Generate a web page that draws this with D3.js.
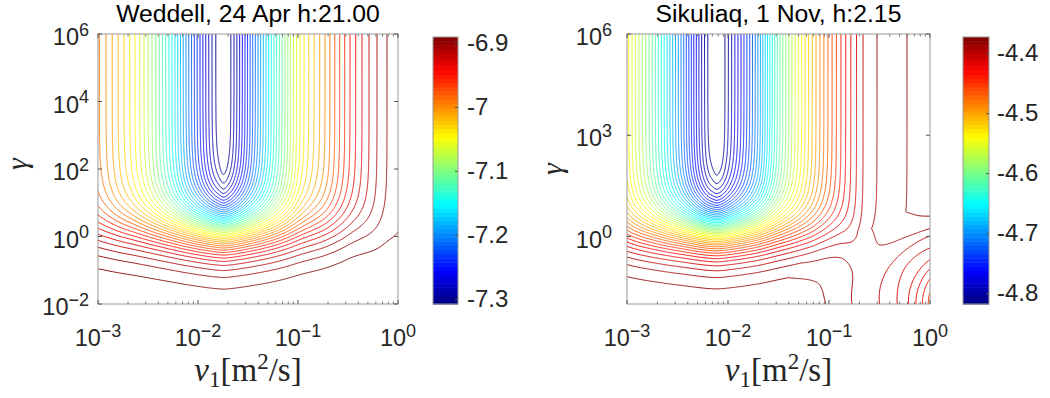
<!DOCTYPE html>
<html>
<head>
<meta charset="utf-8">
<script src="https://cdn.jsdelivr.net/npm/d3@7"></script>
<style>
  body { margin: 0; background: #fff; }
  text { font-family: "Liberation Sans", Arial, sans-serif; }
</style>
</head>
<body>
<svg id="chart" width="1050" height="398"></svg>
<script>
// ---------- values ----------
const xTickExp = [-3, -2, -1, 0];
const weddellYTickExp = [-2, 0, 2, 4, 6];
const sikuliaqYTickExp = [0, 3, 6];

const weddellTitle = "Weddell, 24 Apr h:21.00";
const sikuliaqTitle = "Sikuliaq, 1 Nov, h:2.15";

// misfit along the top edge (large gamma): log10(nu) -> value
const weddellTopNu  = [-3.00, -2.92, -2.74, -2.63, -2.46, -2.26, -2.12, -1.98, -1.86, -1.80, -1.745, -1.69, -1.64, -1.40, -1.13, -0.98, -0.73, -0.48, -0.36, -0.21, -0.11, 0.00];
const weddellTopVal = [-6.988, -7.00, -7.03, -7.05, -7.09, -7.15, -7.20, -7.25, -7.29, -7.305, -7.315, -7.305, -7.29, -7.20, -7.10, -7.05, -7.00, -6.95, -6.93, -6.91, -6.90, -6.894];
// log10(gamma) where the valley closes, along log10(nu)
const weddellBendNu    = [-3.0, -1.75, -1.0, -0.5, -0.15, 0.0];
const weddellBendGamma = [0.14, 0.24, 0.20, 0.22, -0.10, -0.30];
const weddellFloor = -6.88;          // value reached at small gamma
const weddellWidth = 0.48;           // decades of gamma for the closing
const weddellLevels = d3.range(42).map(i => -7.30 + i * 0.01);
const weddellColorRange = [-7.308, -6.891];
const weddellColorTicks = [-7.3, -7.2, -7.1, -7, -6.9];

const sikuliaqTopNu  = [-3.00, -2.95, -2.75, -2.465, -2.20, -2.15, -2.114, -2.07, -2.03, -1.73, -1.485, -1.09, -0.663, -0.525, -0.228, 0.00];
const sikuliaqTopVal = [-4.535, -4.55, -4.61, -4.71, -4.81, -4.82, -4.825, -4.82, -4.81, -4.71, -4.61, -4.49, -4.40, -4.39, -4.38, -4.374];
const sikuliaqBendNu    = [-3.0, -2.1, -1.2, -0.9, -0.65, -0.4, 0.0];
const sikuliaqBendGamma = [0.10, 0.23, 0.15, 0.0, -0.60, -0.90, -0.90];
const sikuliaqFloor = -4.37;
const sikuliaqWidth = 0.47;
// second low centred beyond the lower right corner
const sikuliaqDipCentre = [0.5, -2.0];          // log10 nu, log10 gamma
const sikuliaqDipGammaScale = 2.36;
const sikuliaqDipNuSpan = [0, 1.0, 1.26, 1.54, 2.2];
const sikuliaqDipNuDist = [0, 1.0, 1.066, 1.19, 1.5];
const sikuliaqDipRadius = [0.5, 0.538, 0.57, 0.634, 0.70, 0.773, 0.873, 1.0, 1.077, 1.225, 1.4];
const sikuliaqDipDepth  = [0.10, 0.0885, 0.0785, 0.0685, 0.0585, 0.0485, 0.0385, 0.0285, 0.018, 0.0065, 0.0];
const sikuliaqLevels = d3.range(44).map(i => -4.81 + i * 0.01);
const sikuliaqColorRange = [-4.818, -4.373];
const sikuliaqColorTicks = [-4.8, -4.7, -4.6, -4.5, -4.4];

// ---------- drawing ----------
const svg = d3.select("#chart");
const nx = 300, ny = 270;

function jet(t) {
    const c = x => Math.max(0, Math.min(1, x));
    const r = c(Math.min(4 * t - 1.5, -4 * t + 4.5));
    const g = c(Math.min(4 * t - 0.5, -4 * t + 3.5));
    const b = c(Math.min(4 * t + 0.5, -4 * t + 2.5));
    return d3.rgb(r * 255, g * 255, b * 255).toString();
}

// monotone cubic through the read samples (no kinks between them)
function smooth(xs, ys) {
    const n = xs.length, d = [], m = new Array(n);
    for (let i = 0; i < n - 1; i++) d.push((ys[i + 1] - ys[i]) / (xs[i + 1] - xs[i]));
    m[0] = d[0]; m[n - 1] = d[n - 2];
    for (let i = 1; i < n - 1; i++) m[i] = d[i - 1] * d[i] <= 0 ? 0 : (d[i - 1] + d[i]) / 2;
    for (let i = 0; i < n - 1; i++) {
        if (d[i] === 0) { m[i] = m[i + 1] = 0; continue; }
        const a = m[i] / d[i], b = m[i + 1] / d[i], s = a * a + b * b;
        if (s > 9) { const t = 3 / Math.sqrt(s); m[i] = t * a * d[i]; m[i + 1] = t * b * d[i]; }
    }
    const bis = d3.bisector(x => x).right;
    return x => {
        if (x <= xs[0]) return ys[0];
        if (x >= xs[n - 1]) return ys[n - 1];
        const i = Math.min(n - 2, bis(xs, x) - 1);
        const h = xs[i + 1] - xs[i], t = (x - xs[i]) / h, t2 = t * t, t3 = t2 * t;
        return (2 * t3 - 3 * t2 + 1) * ys[i] + (t3 - 2 * t2 + t) * h * m[i]
             + (-2 * t3 + 3 * t2) * ys[i + 1] + (t3 - t2) * h * m[i + 1];
    };
}

const sikuliaqDip = (() => {
    const dist = smooth(sikuliaqDipNuSpan, sikuliaqDipNuDist);
    const depth = smooth(sikuliaqDipRadius, sikuliaqDipDepth);
    return (u, v) => {
        const a = dist(sikuliaqDipCentre[0] - u);
        const b = (v - sikuliaqDipCentre[1]) / sikuliaqDipGammaScale;
        return depth(Math.sqrt(a * a + b * b));
    };
})();

const panels = [
    {
        title: weddellTitle, yTicks: weddellYTickExp,
        top: smooth(weddellTopNu, weddellTopVal),
        bend: smooth(weddellBendNu, weddellBendGamma),
        floor: weddellFloor, width: weddellWidth, dip: null,
        levels: weddellLevels, crange: weddellColorRange, cticks: weddellColorTicks,
        x0: 98, x1: 398, y0: 34, y1: 304, ylabGap: 9, gammaX: 27, gammaY: 164,
        cbX: 433, cbW: 25, cbPad: 9
    },
    {
        title: sikuliaqTitle, yTicks: sikuliaqYTickExp,
        top: smooth(sikuliaqTopNu, sikuliaqTopVal),
        bend: smooth(sikuliaqBendNu, sikuliaqBendGamma),
        floor: sikuliaqFloor, width: sikuliaqWidth, dip: sikuliaqDip,
        levels: sikuliaqLevels, crange: sikuliaqColorRange, cticks: sikuliaqColorTicks,
        x0: 627, x1: 930, y0: 34, y1: 304, ylabGap: 15, gammaX: 562, gammaY: 169,
        cbX: 963, cbW: 26, cbPad: 8
    }
];

function misfit(p, u, v) {
    const g = p.top(u);
    const s = 1 / (1 + Math.exp(-(v - p.bend(u)) / p.width));
    let f = p.floor - (p.floor - g) * s;
    if (p.dip) f -= p.dip(u, v);
    return f;
}

function powLabel(g, x, y, e, anchor) {
    const t = g.append("text")
        .attr("x", x).attr("y", y)
        .attr("text-anchor", anchor)
        .attr("fill", "#262626")
        .style("font-size", "23.5px");
    t.append("tspan").text("10");
    t.append("tspan").attr("dy", -9.5).style("font-size", "18px")
        .text(e < 0 ? "\u2212" + (-e) : String(e));
}

panels.forEach((p, k) => {
    const xScale = d3.scaleLog().domain([1e-3, 1]).range([p.x0, p.x1]);
    const yScale = d3.scaleLog().domain([1e-2, 1e6]).range([p.y1, p.y0]);
    const gu = d3.scaleLinear().domain([0.5, nx - 0.5]).range([-3, 0]);
    const gv = d3.scaleLinear().domain([0.5, ny - 0.5]).range([6, -2]);

    const values = new Float64Array(nx * ny);
    for (let j = 0; j < ny; j++) {
        const v = gv(j + 0.5);
        for (let i = 0; i < nx; i++) values[j * nx + i] = misfit(p, gu(i + 0.5), v);
    }

    const color = d3.scaleSequential(jet).domain(p.crange);
    const proj = d3.geoTransform({
        point(x, y) { this.stream.point(xScale(Math.pow(10, gu(x))), yScale(Math.pow(10, gv(y)))); }
    });
    const path = d3.geoPath(proj);

    svg.append("clipPath").attr("id", "clip" + k)
        .append("rect").attr("x", p.x0).attr("y", p.y0)
        .attr("width", p.x1 - p.x0).attr("height", p.y1 - p.y0);

    const contours = d3.contours().size([nx, ny]).thresholds(p.levels)(values);
    svg.append("g").attr("clip-path", `url(#clip${k})`)
        .selectAll("path")
        .data(contours)
        .join("path")
        .attr("d", path)
        .attr("fill", "none")
        .attr("stroke", d => color(d.value))
        .attr("stroke-width", 1)
        .attr("stroke-opacity", 0.9);

    // frame and ticks
    const ax = svg.append("g");
    ax.append("rect").attr("x", p.x0).attr("y", p.y0)
        .attr("width", p.x1 - p.x0).attr("height", p.y1 - p.y0)
        .attr("fill", "none").attr("stroke", "#9a9a9a").attr("stroke-width", 1);

    const minor = [];
    [-3, -2, -1].forEach(e => d3.range(2, 10).forEach(m => minor.push(m * Math.pow(10, e))));
    minor.forEach(d => {
        const x = xScale(d);
        ax.append("line").attr("x1", x).attr("x2", x).attr("y1", p.y1).attr("y2", p.y1 - 2.5).attr("stroke", "#777");
        ax.append("line").attr("x1", x).attr("x2", x).attr("y1", p.y0).attr("y2", p.y0 + 2.5).attr("stroke", "#777");
    });
    xTickExp.forEach(e => {
        const x = xScale(Math.pow(10, e));
        ax.append("line").attr("x1", x).attr("x2", x).attr("y1", p.y1).attr("y2", p.y1 - 4).attr("stroke", "#555");
        ax.append("line").attr("x1", x).attr("x2", x).attr("y1", p.y0).attr("y2", p.y0 + 4).attr("stroke", "#555");
        powLabel(ax, x, 346, e, "middle");
    });
    p.yTicks.forEach(e => {
        const y = yScale(Math.pow(10, e));
        ax.append("line").attr("x1", p.x0).attr("x2", p.x0 + 4).attr("y1", y).attr("y2", y).attr("stroke", "#555");
        ax.append("line").attr("x1", p.x1).attr("x2", p.x1 - 4).attr("y1", y).attr("y2", y).attr("stroke", "#555");
        powLabel(ax, p.x0 - p.ylabGap, y + 11, e, "end");
    });

    // title
    svg.append("text")
        .attr("x", (p.x0 + p.x1) / 2).attr("y", 22)
        .attr("text-anchor", "middle")
        .style("font-size", "24.75px")
        .text(p.title);

    // axis labels
    const xl = svg.append("text")
        .attr("x", (p.x0 + p.x1) / 2).attr("y", 381)
        .attr("text-anchor", "middle")
        .style("font-family", "'Liberation Serif', serif")
        .style("font-size", "33px")
        .attr("fill", "#262626");
    xl.append("tspan").style("font-style", "italic").text("\u03bd");
    xl.append("tspan").attr("dy", 6).style("font-size", "23px").text("1");
    xl.append("tspan").attr("dy", -6).text("[m");
    xl.append("tspan").attr("dy", -12).style("font-size", "23px").text("2");
    xl.append("tspan").attr("dy", 12).text("/s]");

    svg.append("text")
        .attr("transform", `translate(${p.gammaX},${p.gammaY}) rotate(-90)`)
        .attr("text-anchor", "middle")
        .style("font-family", "'Liberation Serif', serif")
        .style("font-style", "italic")
        .style("font-size", "30px")
        .attr("fill", "#262626")
        .text("\u03b3");

    // colorbar
    const cbScale = d3.scaleLinear().domain(p.crange).range([p.y1, 37]);
    const nb = 64;
    const cb = svg.append("g");
    cb.selectAll("rect.band")
        .data(d3.range(nb))
        .join("rect")
        .attr("class", "band")
        .attr("x", p.cbX)
        .attr("width", p.cbW)
        .attr("y", i => cbScale(p.crange[0] + (i + 1) * (p.crange[1] - p.crange[0]) / nb))
        .attr("height", (p.y1 - 37) / nb + 0.5)
        .attr("fill", i => jet((i + 0.5) / nb));
    cb.append("rect").attr("x", p.cbX).attr("y", 37)
        .attr("width", p.cbW).attr("height", p.y1 - 37)
        .attr("fill", "none").attr("stroke", "#9a9a9a");
    const cbAxis = d3.axisRight(cbScale)
        .tickValues(p.cticks)
        .tickSize(-3)
        .tickPadding(p.cbPad)
        .tickFormat(d => String(d));
    const cba = cb.append("g")
        .attr("transform", `translate(${p.cbX + p.cbW},0)`)
        .call(cbAxis);
    cba.select(".domain").remove();
    cba.selectAll(".tick line").attr("stroke", "#555");
    cba.selectAll(".tick text")
        .attr("fill", "#262626")
        .style("font-family", "'Liberation Sans', Arial, sans-serif")
        .style("font-size", "24px");
});
</script>
</body>
</html>
